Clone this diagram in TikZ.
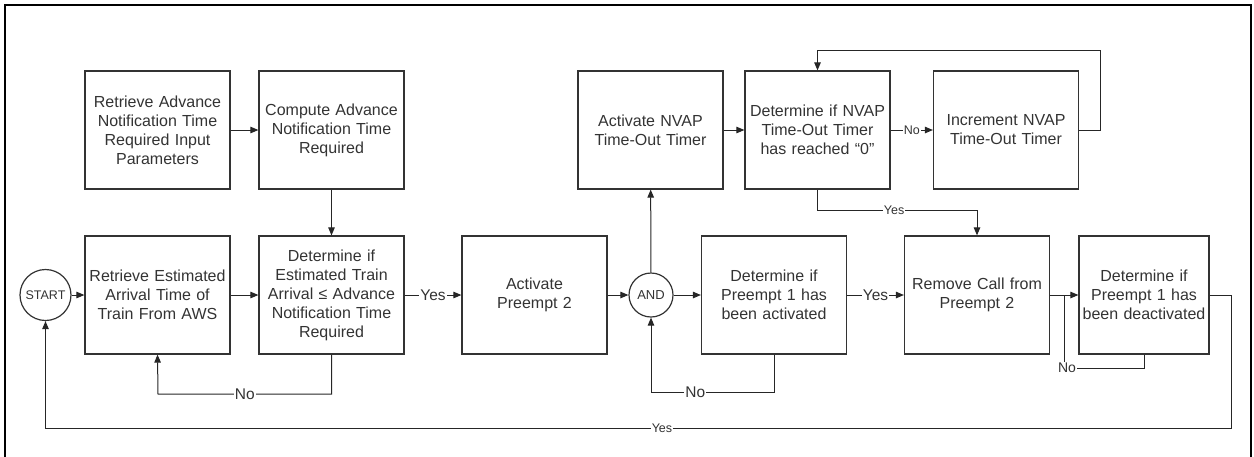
\documentclass[tikz,border=0pt]{standalone}
\usepackage{fontspec}
\setmainfont{Liberation Sans}
\usepackage{tikz}
\usetikzlibrary{arrows.meta}

\begin{document}
\begin{tikzpicture}[x=1pt, y=-1pt,
    box/.style={draw=black!80, line width=1.2pt, minimum width=145pt, minimum height=118pt,
        text width=141pt, align=center, inner sep=0pt, text=black!80,
        font=\fontsize{16}{19}\selectfont},
    junc/.style={draw=black!80, line width=1.2pt, circle, inner sep=0pt, text=black!80},
    flow/.style={draw=black!85, line width=1pt, -{Triangle[length=8pt,width=6.5pt]}},
    line/.style={draw=black!85, line width=1pt},
    lbl/.style={fill=white, inner sep=1pt, text=black!80, font=\fontsize{15.5}{16}\selectfont},
    slbl/.style={fill=white, inner sep=1pt, text=black!80, font=\fontsize{12.5}{13}\selectfont}]
       \useasboundingbox (0,0) rectangle (1254,456);
       \draw[line width=2pt] (5,470) -- (5,5) -- (1251,5) -- (1251,470);

       \node(S)[junc, minimum size=51pt, font=\fontsize{12.5}{13}\selectfont] at (45.5,295) {START};
       \node(AND)[junc, minimum size=44pt, font=\fontsize{13}{13}\selectfont] at (651,295) {AND};

       \node(RA)[box] at (157.5,130) {Retrieve Advance\\Notification Time\\Required Input\\Parameters};
       \node(CA)[box] at (331.5,130) {Compute Advance\\Notification Time\\Required};
       \node(RE)[box] at (157.5,295) {Retrieve Estimated\\Arrival Time of\\Train From AWS};
       \node(D1)[box] at (331.5,295) {Determine if\\Estimated Train\\Arrival ≤ Advance\\Notification Time\\Required};
       \node(AP)[box] at (534.5,295) {Activate\\Preempt 2};
       \node(NV)[box] at (650.5,130) {Activate NVAP\\Time-Out Timer};
       \node(DN)[box] at (817.5,130) {Determine if NVAP\\Time-Out Timer\\has reached “0”};
       \node(IN)[box] at (1006,130) {Increment NVAP\\Time-Out Timer};
       \node(D2)[box] at (774,295) {Determine if\\Preempt 1 has\\been activated};
       \node(RC)[box] at (977,295) {Remove Call from\\Preempt 2};
       \node(D3)[box, minimum width=130pt, text width=128pt] at (1144,295) {Determine if\\Preempt 1 has\\been deactivated};

       \coordinate(C1) at (158,394);
       \coordinate(C2) at (651,392);
       \coordinate(C3) at (1100,50);
       \coordinate(C4) at (977,210);
       \coordinate(C5) at (1064,368);
       \coordinate(C6) at (1231,428);

       \draw[flow] (S) -- (RE);
       \draw[flow] (RA) -- (CA);
       \draw[flow] (CA) -- (D1);
       \draw[flow] (RE) -- (D1);
       \draw[flow] (D1) -- node[lbl]{Yes} (AP);
       \draw[flow] (D1.south) |- node[lbl, pos=0.75]{No} (C1) -- (RE.south);
       \draw[flow] (AP) -- (AND);
       \draw[flow] (AND) -- (D2);
       \draw[flow] (AND) -- (NV);
       \draw[flow] (NV) -- (DN);
       \draw[flow] (DN) -- node[slbl]{No} (IN);
       \draw[flow] (IN.east) -| (C3) -| (DN.north);
       \draw[flow] (DN.south) |- node[slbl, pos=0.74]{Yes} (C4) -- (RC.north);
       \draw[flow] (D2) -- node[lbl]{Yes} (RC);
       \draw[flow] (D2.south) |- node[lbl, pos=0.82]{No} (C2) -- (AND.south);
       \draw[flow] (RC) -- (D3);
       \draw[line] (D3.south) |- (C5) -- (C5 |- RC.east);
       \node(NO3)[lbl, font=\fontsize{14}{14}\selectfont] at (1067,368) {No};
       \draw[flow] (D3.east) -| (C6) -- node[slbl, pos=0.48]{Yes} (C6 -| S.south) -- (S.south);
\end{tikzpicture}
\end{document}
